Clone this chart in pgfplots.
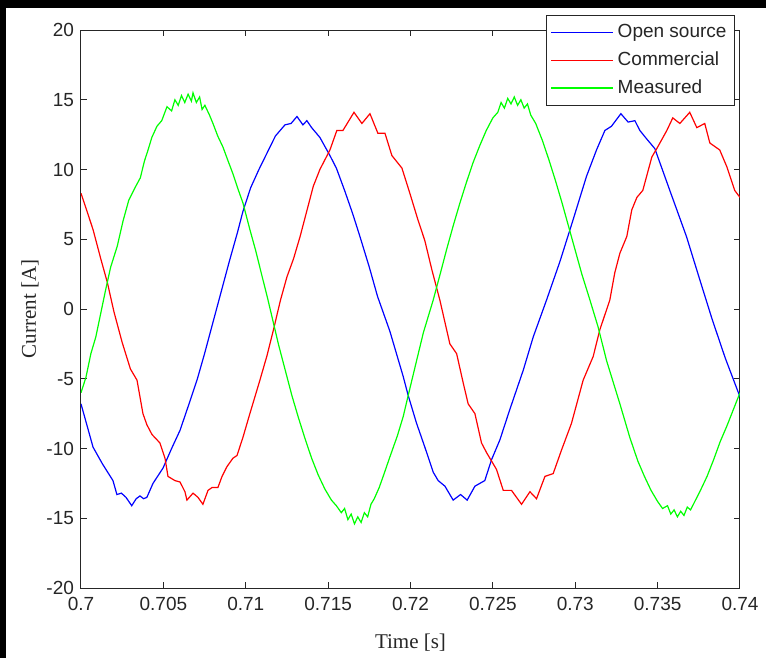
\documentclass[border=0pt]{standalone}
\usepackage{fontspec}
\setmainfont{Liberation Serif}
\newfontfamily\sansf{Liberation Sans}
\usepackage{pgfplots}
\pgfplotsset{compat=1.18}
\definecolor{axgray}{RGB}{38,38,38}
\definecolor{mblue}{RGB}{0,0,255}
\definecolor{mred}{RGB}{255,0,0}
\definecolor{mgreen}{RGB}{0,255,0}
\begin{document}
\begin{tikzpicture}
\path[use as bounding box] (-40.5bp,-35bp) rectangle (342.5bp,294bp);
\fill[black] (-40.5bp,290bp) rectangle (342.5bp,294bp);
\fill[black] (-40.5bp,-35bp) rectangle (-37.5bp,294bp);
\begin{axis}[
  at={(0,0)}, anchor=south west,
  scale only axis, width=329.5bp, height=279bp,
  xmin=0.7, xmax=0.74, ymin=-20, ymax=20,
  xtick={0.7,0.705,0.71,0.715,0.72,0.725,0.73,0.735,0.74},
  xticklabels={0.7,0.705,0.71,0.715,0.72,0.725,0.73,0.735,0.74},
  ytick={-20,-15,-10,-5,0,5,10,15,20},
  yticklabels={-20,-15,-10,-5,0,5,10,15,20},
  tick align=inside, tick pos=both, major tick length=3bp,
  axis line style={axgray, line width=0.5bp},
  every tick/.style={axgray, line width=0.5bp},
  ticklabel style={font=\sansf\fontsize{9.5bp}{11bp}\selectfont, text=axgray},
  xticklabel style={yshift=-1bp},
  xlabel={Time [s]}, ylabel={Current [A]},
  label style={font=\fontsize{10.5bp}{12bp}\selectfont, text=axgray},
  xlabel style={at={(axis description cs:0.5,-0.0986)}, anchor=center},
  ylabel style={at={(axis description cs:-0.0774,0.5)}, anchor=center},
  legend style={at={(axis description cs:0.9924,1.0269)}, anchor=north east,
    draw=axgray, line width=0.5bp, fill=white,
    font=\sansf\fontsize{9.5bp}{11bp}\selectfont, text=axgray,
    inner xsep=2bp, inner ysep=2.6bp, row sep=1.5bp},
  legend cell align=left,
  legend image code/.code={\draw[#1, line width=0.6bp] (0bp,0bp) -- (31bp,0bp);},
  every axis plot/.append style={line width=0.6bp},
]
\addplot[mblue] coordinates {
(0.7000,-6.8) (0.70073,-9.9) (0.7013,-11.1) (0.70194,-12.3) (0.70218,-13.3) (0.70245,-13.2)
(0.70273,-13.5) (0.70308,-14.1) (0.70335,-13.6) (0.70358,-13.4) (0.70380,-13.6) (0.70400,-13.5)
(0.70437,-12.5) (0.70498,-11.4) (0.7055,-10.0) (0.70601,-8.7) (0.7065,-7.0) (0.70704,-5.1)
(0.7075,-3.2) (0.7080,-1.0) (0.7085,1.2) (0.7090,3.4) (0.7095,5.5) (0.70983,7.0)
(0.7103,8.7) (0.7108,10.0) (0.7113,11.2) (0.7118,12.4) (0.71238,13.2) (0.71275,13.3)
(0.71311,13.8) (0.71347,13.2) (0.71371,13.5) (0.7140,13.0) (0.7145,12.3) (0.71511,11.0)
(0.7155,10.1) (0.7160,8.5) (0.7165,6.8) (0.71693,5.2) (0.7175,3.0) (0.7180,0.9)
(0.71875,-1.6) (0.71956,-4.85) (0.71986,-6.2) (0.72037,-8.2) (0.72087,-9.9) (0.72138,-11.7)
(0.72168,-12.3) (0.72209,-12.7) (0.72259,-13.7) (0.72304,-13.3) (0.72344,-13.7) (0.72391,-12.7)
(0.72451,-12.3) (0.72492,-10.8) (0.72542,-9.4) (0.72603,-7.2) (0.72684,-4.4) (0.72745,-2.0)
(0.72826,0.65) (0.72907,3.4) (0.72987,6.4) (0.73068,9.5) (0.73129,11.4) (0.7318,12.8)
(0.7322,13.1) (0.73277,14.0) (0.73321,13.4) (0.73362,13.5) (0.73392,12.8) (0.73433,12.2)
(0.73483,11.5) (0.73574,8.5) (0.73675,5.2) (0.73756,2.1) (0.7383,-0.7) (0.7391,-3.5) (0.7400,-6.3)
};
\addlegendentry{Open source}
\addplot[mred] coordinates {
(0.7000,8.3) (0.70073,5.7) (0.7012,3.6) (0.7016,1.9) (0.7020,-0.2) (0.7025,-2.4)
(0.7030,-4.3) (0.70340,-5.1) (0.70376,-7.5) (0.70400,-8.3) (0.70431,-9.0) (0.70479,-9.6)
(0.70510,-10.7) (0.70528,-12.0) (0.70570,-12.3) (0.70601,-12.4) (0.70631,-13.1) (0.70643,-13.7)
(0.70680,-13.2) (0.70710,-13.5) (0.70740,-14.0) (0.70771,-13.0) (0.70795,-12.8) (0.70831,-12.8)
(0.70856,-12.0) (0.70886,-11.3) (0.70922,-10.7) (0.70947,-10.5) (0.70983,-9.2) (0.71025,-7.5)
(0.71086,-5.1) (0.7113,-3.3) (0.7117,-1.4) (0.7121,0.6) (0.7125,2.3) (0.7129,3.6)
(0.7133,5.2) (0.7137,7.0) (0.7141,8.8) (0.7145,10.0) (0.71511,11.4) (0.71553,12.8)
(0.7159,12.8) (0.71657,14.1) (0.71705,13.3) (0.71754,14.0) (0.71802,12.6) (0.71845,12.6)
(0.71887,11.0) (0.71948,10.1) (0.71996,8.3) (0.72045,6.4) (0.72087,4.9) (0.7213,2.8)
(0.72178,0.65) (0.72239,-2.5) (0.72280,-3.2) (0.72320,-5.3) (0.72350,-6.8) (0.72391,-7.5)
(0.72431,-9.6) (0.72462,-10.3) (0.72522,-11.5) (0.72563,-13.0) (0.72613,-13.0) (0.72674,-14.0)
(0.72725,-13.1) (0.72765,-13.6) (0.72816,-12.0) (0.72866,-11.8) (0.72917,-10.1) (0.72977,-8.2)
(0.73048,-5.1) (0.73109,-3.4) (0.73149,-1.5) (0.73210,0.65) (0.7324,2.6) (0.73271,4.0)
(0.73313,5.2) (0.73343,7.1) (0.73374,8.0) (0.7341,8.5) (0.73465,10.9) (0.73495,11.5)
(0.73556,12.8) (0.73592,13.7) (0.73635,13.3) (0.73695,14.1) (0.73738,13.0) (0.73786,13.3)
(0.73817,11.9) (0.73877,11.4) (0.7392,10.2) (0.73968,8.5) (0.7400,8.0)
};
\addlegendentry{Commercial}
\addplot[mgreen] coordinates {
(0.7000,-6.0) (0.7003,-4.9) (0.7006,-3.2) (0.7009,-2.0) (0.7012,-0.3) (0.7015,1.4)
(0.7018,3.0) (0.7022,4.5) (0.70255,6.3) (0.7029,7.8) (0.70328,8.7) (0.7036,9.4)
(0.70385,10.6) (0.70407,11.4) (0.7043,12.3) (0.70461,13.1) (0.7049,13.5) (0.70522,14.5)
(0.7055,14.2) (0.7057,15.0) (0.7059,14.6) (0.7061,15.3) (0.7063,14.8) (0.7065,15.4)
(0.7067,14.9) (0.7068,15.5) (0.7070,14.8) (0.7072,15.2) (0.70735,14.3) (0.70752,14.6)
(0.7078,13.9) (0.70801,13.3) (0.7083,12.4) (0.70862,11.6) (0.7089,10.7) (0.70922,9.7)
(0.7095,8.7) (0.70983,7.6) (0.71025,5.7) (0.7106,4.2) (0.7110,2.3) (0.7113,0.9)
(0.7116,-0.6) (0.7120,-2.6) (0.7124,-4.4) (0.7128,-6.2) (0.7132,-7.8) (0.7136,-9.3)
(0.7140,-10.7) (0.7144,-11.9) (0.7148,-12.9) (0.7152,-13.7) (0.7155,-14.1) (0.7158,-14.6)
(0.7160,-14.3) (0.7162,-15.1) (0.7164,-14.7) (0.7166,-15.4) (0.7168,-14.9) (0.7170,-15.3)
(0.7172,-14.6) (0.7174,-14.9) (0.7176,-14.0) (0.7178,-13.6) (0.7181,-12.8) (0.7184,-11.8)
(0.71875,-10.6) (0.7192,-9.1) (0.71956,-7.7) (0.71986,-6.2) (0.72037,-3.7) (0.72078,-1.7)
(0.72138,0.65) (0.7218,2.5) (0.7222,4.3) (0.7226,6.0) (0.7230,7.6) (0.7234,9.1)
(0.7238,10.5) (0.7242,11.7) (0.7246,12.8) (0.7250,13.7) (0.7253,14.1) (0.7255,14.8)
(0.7257,14.4) (0.7259,15.1) (0.7261,14.7) (0.7263,15.2) (0.7265,14.6) (0.7267,15.0)
(0.7269,14.4) (0.7271,14.7) (0.7273,13.9) (0.7276,13.3) (0.7280,12.1) (0.7284,10.7)
(0.7288,9.2) (0.7292,7.6) (0.7296,5.9) (0.7300,4.2) (0.7304,2.5) (0.73089,0.65)
(0.73139,-1.3) (0.7319,-3.7) (0.73271,-6.8) (0.73331,-9.2) (0.7338,-10.9) (0.7342,-12.0)
(0.7346,-13.0) (0.7350,-13.8) (0.7353,-14.3) (0.7356,-14.1) (0.7358,-14.7) (0.7360,-14.4)
(0.7362,-14.9) (0.7364,-14.5) (0.7366,-14.8) (0.7368,-14.2) (0.7370,-14.4) (0.7373,-13.7)
(0.7376,-13.0) (0.7380,-12.0) (0.7384,-10.8) (0.7388,-9.5) (0.7392,-8.4) (0.7396,-7.2) (0.7400,-6.0)
};
\addlegendentry{Measured}
\end{axis}
\end{tikzpicture}
\end{document}
